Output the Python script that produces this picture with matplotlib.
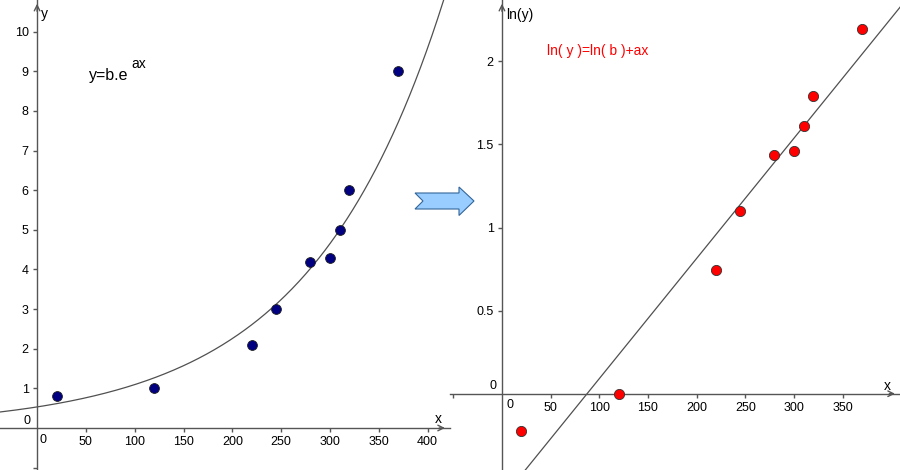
import numpy as np
import matplotlib
matplotlib.use('Agg')
import matplotlib.pyplot as plt
from matplotlib.patches import Polygon

plt.rcParams['font.family'] = ['Liberation Sans', 'DejaVu Sans']
plt.rcParams['font.size'] = 9

# data
x_vals = [20, 120, 220, 245, 280, 300, 310, 320, 370]
y_vals = [0.8, 1.0, 2.1, 3.0, 4.2, 4.3, 5.0, 6.0, 9.0]
ln_y = np.log(y_vals)

left_xticks = [50, 100, 150, 200, 250, 300, 350, 400]
left_yticks = [-1, 1, 2, 3, 4, 5, 6, 7, 8, 9, 10]
right_xticks = [-50, 50, 100, 150, 200, 250, 300, 350]
right_yticks = [0.5, 1, 1.5, 2]

# fit ln(y) = ln(b) + a x
a, lnb = np.polyfit(x_vals, ln_y, 1)
b = np.exp(lnb)

axis_col = '#555555'
W, H = 900, 470

fig = plt.figure(figsize=(9, 4.7), dpi=100)


def setup_axis(ax, xlim, ylim, xticks, yticks, ylabels):
    ax.set_xlim(*xlim)
    ax.set_ylim(*ylim)
    ax.patch.set_visible(False)
    for s in ['top', 'right']:
        ax.spines[s].set_visible(False)
    for s in ['left', 'bottom']:
        ax.spines[s].set_position('zero')
        ax.spines[s].set_color(axis_col)
        ax.spines[s].set_linewidth(1)
    ax.set_xticks(xticks)
    ax.set_xticklabels(['' if t < 0 else str(t) for t in xticks])
    ax.set_yticks(yticks)
    ax.set_yticklabels(ylabels)
    ax.tick_params(axis='both', direction='out', length=3, width=1,
                   color=axis_col, labelcolor='black', labelsize=9)
    ax.tick_params(axis='x', pad=3)
    ax.tick_params(axis='y', pad=3)
    # arrow heads at the ends of the axes
    ax.annotate('', xy=(0.995, 0), xycoords=('axes fraction', 'data'),
                xytext=(0.97, 0), textcoords=('axes fraction', 'data'),
                arrowprops=dict(arrowstyle='->', color=axis_col, lw=1,
                                mutation_scale=10))
    ax.annotate('', xy=(0, 0.998), xycoords=('data', 'axes fraction'),
                xytext=(0, 0.97), textcoords=('data', 'axes fraction'),
                arrowprops=dict(arrowstyle='->', color=axis_col, lw=1,
                                mutation_scale=10))


# left panel: y = b.e^(ax)
ax1 = fig.add_axes([0, 0, 450 / W, 1])
setup_axis(ax1, (-38, 423), (-1.06, 10.8), left_xticks, left_yticks,
           ['' if t < 0 else str(t) for t in left_yticks])
xs = np.linspace(-38, 423, 400)
ax1.plot(xs, b * np.exp(a * xs), color='#505050', lw=0.9, zorder=2)
ax1.scatter(x_vals, y_vals, s=50, color='#000080', edgecolor='#222222',
            linewidth=0.6, zorder=3, clip_on=False)
ax1.text(43 / 450, 1 - 440 / H, '0', transform=ax1.transAxes,
         ha='center', va='center')
ax1.text(30 / 450, 1 - 421 / H, '0', transform=ax1.transAxes,
         ha='right', va='center')
ax1.text(41 / 450, 1 - 14 / H, 'y', transform=ax1.transAxes,
         ha='left', va='center', fontsize=10)
ax1.text(438 / 450, 1 - 419 / H, 'x', transform=ax1.transAxes,
         ha='center', va='center', fontsize=10)
ax1.text(89 / 450, 1 - 80 / H, 'y=b.e', transform=ax1.transAxes,
         ha='left', va='baseline', fontsize=11.5)
ax1.text(131 / 450, 1 - 68 / H, 'ax', transform=ax1.transAxes,
         ha='left', va='baseline', fontsize=10)

# right panel: ln(y) = ln(b) + ax
ax2 = fig.add_axes([450 / W, 0, 450 / W, 1])
setup_axis(ax2, (-53.4, 409), (-0.459, 2.369), right_xticks, right_yticks,
           [str(t) for t in right_yticks])
xs2 = np.linspace(-53.4, 409, 50)
ax2.plot(xs2, lnb + a * xs2, color='#505050', lw=0.9, zorder=2)
ax2.scatter(x_vals, ln_y, s=54, color='#ff0000', edgecolor='#333333',
            linewidth=0.6, zorder=3, clip_on=False)
ax2.text((510 - 450) / 450, 1 - 405 / H, '0', transform=ax2.transAxes,
         ha='center', va='center')
ax2.text((496 - 450) / 450, 1 - 386 / H, '0', transform=ax2.transAxes,
         ha='right', va='center')
ax2.text((506 - 450) / 450, 1 - 15 / H, 'ln(y)', transform=ax2.transAxes,
         ha='left', va='center', fontsize=10)
ax2.text((887 - 450) / 450, 1 - 386 / H, 'x', transform=ax2.transAxes,
         ha='center', va='center', fontsize=10)
ax2.text((547 - 450) / 450, 1 - 51 / H, 'ln( y )=ln( b )+ax',
         transform=ax2.transAxes, ha='left', va='center', fontsize=10,
         color='#ff0000')

# fat blue arrow between the panels
pts = [(415, 193), (459, 193), (459, 187), (474, 201), (459, 215.5),
       (459, 209), (415, 209), (423, 201)]
arrow = Polygon([(px / W, 1 - py / H) for px, py in pts], closed=True,
                transform=fig.transFigure, facecolor='#99ccff',
                edgecolor='#336699', linewidth=0.8, zorder=5)
fig.patches.append(arrow)

fig.savefig('out.png', dpi=100)
